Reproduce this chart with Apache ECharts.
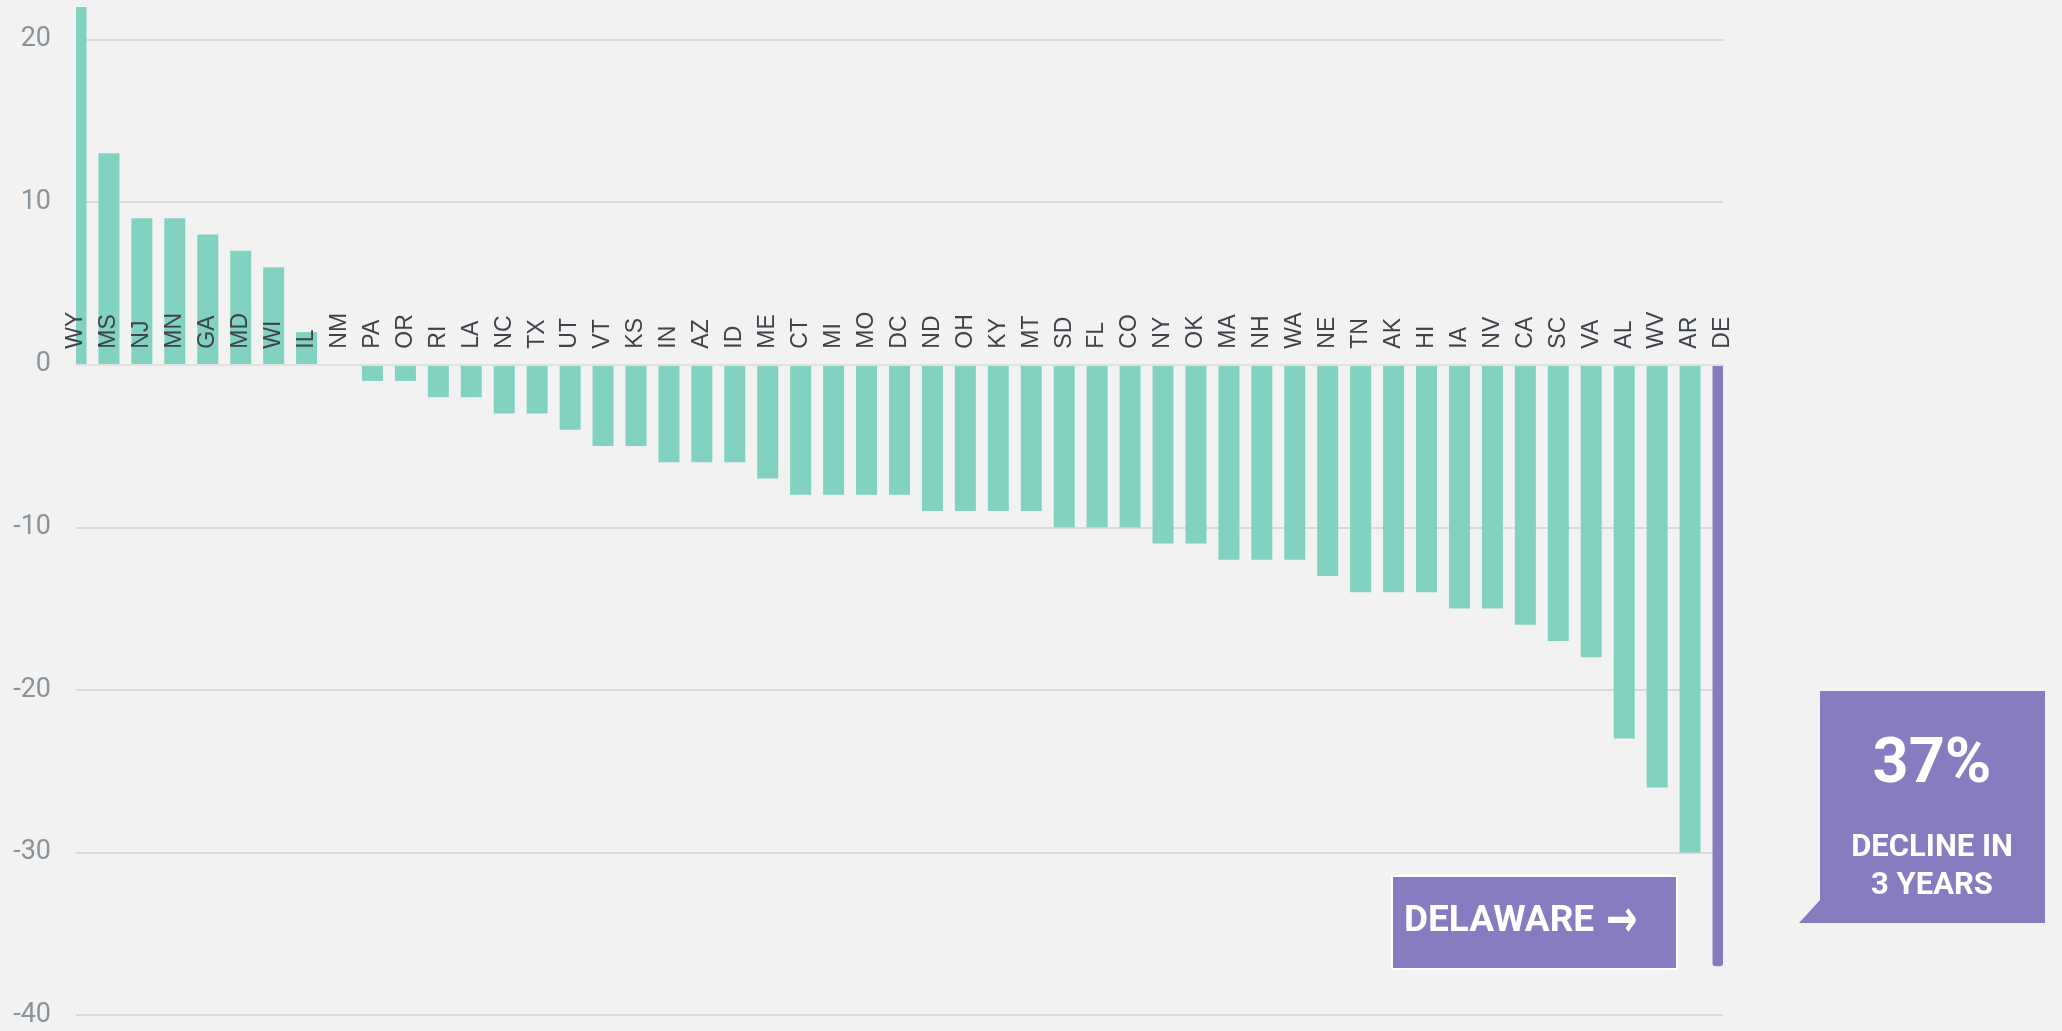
<!DOCTYPE html>
<html>
<head>
<meta charset="utf-8">
<style>
  html, body { margin: 0; padding: 0; background: #f2f2f2; }
  #chart { width: 2062px; height: 1031px; }
</style>
<script src="https://cdn.jsdelivr.net/npm/echarts@6/dist/echarts.min.js"></script>
</head>
<body>
<div id="chart"></div>
<script>
// states, sorted by 3-year change (%)
const states = ['WY', 'MS', 'NJ', 'MN', 'GA', 'MD', 'WI', 'IL', 'NM', 'PA', 'OR', 'RI', 'LA', 'NC', 'TX', 'UT', 'VT',
  'KS', 'IN', 'AZ', 'ID', 'ME', 'CT', 'MI', 'MO', 'DC', 'ND', 'OH', 'KY', 'MT', 'SD', 'FL', 'CO', 'NY', 'OK', 'MA',
  'NH', 'WA', 'NE', 'TN', 'AK', 'HI', 'IA', 'NV', 'CA', 'SC', 'VA', 'AL', 'WV', 'AR', 'DE']
const change = [22, 13, 9, 9, 8, 7, 6, 2, 0, -1, -1, -2, -2, -3, -3, -4, -5,
  -5, -6, -6, -6, -7, -8, -8, -8, -8, -9, -9, -9, -9, -10, -10, -10, -11, -11, -12,
  -12, -12, -13, -14, -14, -14, -15, -15, -16, -17, -18, -23, -26, -30, -37]
const highlight = 'DE'
const yTicks = [-40, -30, -20, -10, 0, 10, 20]
const yMax = 22

const teal = '#81d2c0'
const purple = '#887cc0'
const barWidth = 21

const gridTop = 7
const gridBottom = 16
const chartH = 1031
// the state labels sit on the zero line, so lift the x axis up to it
const plotH = chartH - gridTop - gridBottom
const zeroLift = plotH * (0 - yTicks[0]) / (yMax - yTicks[0])

const chart = echarts.init(document.getElementById('chart'))

// bars sit on the ticks (boundaryGap false) and are cut at the grid edge
function renderBar(params, api) {
  const i = api.value(0)
  const base = api.coord([i, 0])
  const top = api.coord([i, api.value(1)])
  const rect = echarts.graphic.clipRectByRect({
    x: base[0] - barWidth / 2,
    y: Math.min(base[1], top[1]),
    width: barWidth,
    height: Math.abs(top[1] - base[1])
  }, {
    x: params.coordSys.x,
    y: params.coordSys.y,
    width: params.coordSys.width,
    height: params.coordSys.height
  })
  if (!rect) return
  const isHi = states[i] === highlight
  if (isHi) rect.r = [0, 0, 3, 3]
  return {
    type: 'rect',
    shape: rect,
    style: { fill: isHi ? purple : teal }
  }
}

chart.setOption({
  backgroundColor: '#f2f2f2',
  animation: false,
  grid: {
    left: 76,
    right: 339,
    top: gridTop,
    bottom: gridBottom,
    containLabel: false,
    outerBoundsMode: 'none'
  },
  xAxis: {
    type: 'category',
    position: 'bottom',
    offset: -zeroLift,
    data: states,
    boundaryGap: false,
    z: 5,
    axisLine: { onZero: false, lineStyle: { color: '#e1e1e1', width: 2 } },
    axisTick: { show: false },
    axisLabel: {
      inside: true,
      rotate: 90,
      interval: 0,
      margin: 16,
      color: '#3e4349',
      fontFamily: 'Liberation Sans',
      fontSize: 23
    },
    splitLine: { show: false }
  },
  yAxis: {
    type: 'value',
    min: yTicks[0],
    max: yMax,
    interval: 10,
    axisLine: { show: false },
    axisTick: { show: false },
    axisLabel: {
      showMaxLabel: false,
      margin: 25,
      color: '#8a929a',
      fontFamily: 'Roboto',
      fontSize: 27
    },
    splitLine: {
      showMaxLine: false,
      lineStyle: { color: '#d9d9d9', width: 2 }
    }
  },
  series: [{
    type: 'custom',
    renderItem: renderBar,
    encode: { x: 0, y: 1 },
    data: change.map((v, i) => [i, v])
  }],
  graphic: [
    {
      type: 'rect',
      shape: { x: 1392, y: 876, width: 285, height: 93 },
      style: { fill: purple, stroke: '#ffffff', lineWidth: 2 },
      z: 10
    },
    {
      type: 'text',
      x: 1404,
      y: 922,
      style: {
        text: 'DELAWARE',
        fill: '#ffffff',
        font: 'bold 37px Roboto',
        verticalAlign: 'middle'
      },
      z: 11
    },
    {
      type: 'text',
      x: 1606,
      y: 922,
      scaleX: 0.72,
      style: {
        text: '→',
        fill: '#ffffff',
        font: 'bold 52px "DejaVu Sans"',
        verticalAlign: 'middle'
      },
      z: 11
    },
    {
      type: 'polygon',
      shape: { points: [[1820, 691], [2045, 691], [2045, 923], [1799, 923], [1820, 900]] },
      style: { fill: purple },
      z: 10
    },
    {
      type: 'text',
      x: 1932,
      y: 766,
      style: {
        text: '37%',
        fill: '#ffffff',
        font: 'bold 63px Roboto',
        align: 'center',
        verticalAlign: 'middle'
      },
      z: 11
    },
    {
      type: 'text',
      x: 1932,
      y: 848,
      style: {
        text: 'DECLINE IN',
        fill: '#ffffff',
        font: 'bold 31px Roboto',
        align: 'center',
        verticalAlign: 'middle'
      },
      z: 11
    },
    {
      type: 'text',
      x: 1932,
      y: 886,
      style: {
        text: '3 YEARS',
        fill: '#ffffff',
        font: 'bold 31px Roboto',
        align: 'center',
        verticalAlign: 'middle'
      },
      z: 11
    }
  ]
})
</script>
</body>
</html>
